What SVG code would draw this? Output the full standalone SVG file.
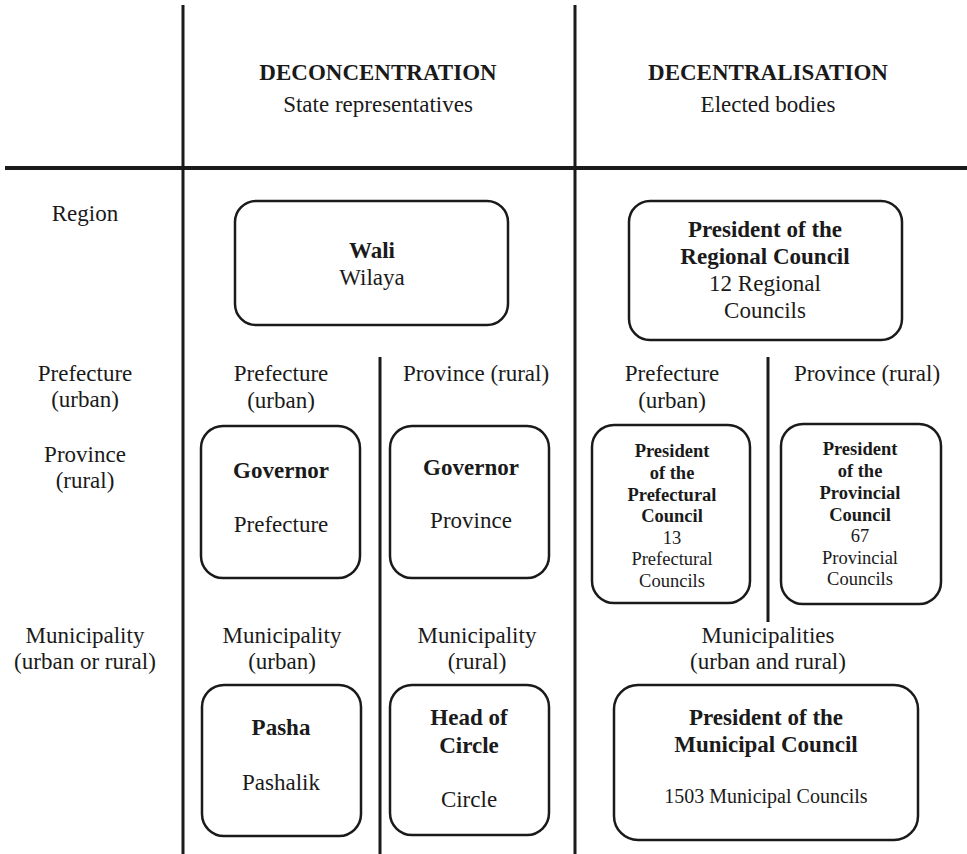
<svg xmlns="http://www.w3.org/2000/svg" width="967" height="854" viewBox="0 0 967 854">
<style>
text{font-family:"Liberation Serif","Times New Roman",serif;font-size:23px;fill:#1a1a1a;text-anchor:middle}
.b{font-weight:bold}
.s{font-size:18.5px}
.m{font-size:20px}
.box{fill:#fff;stroke:#1a1a1a;stroke-width:2.5}
.ln{stroke:#1a1a1a;stroke-width:3;fill:none}
</style>
<rect width="967" height="854" fill="#fff"/>
<g id="connectors">
<line class="ln" x1="183" y1="5" x2="183" y2="854"/>
<line class="ln" x1="575" y1="5" x2="575" y2="854"/>
<line class="ln" x1="5" y1="168" x2="967" y2="168" style="stroke-width:4"/>
<line class="ln" x1="380" y1="357" x2="380" y2="854"/>
<line class="ln" x1="768" y1="357" x2="768" y2="622"/>
</g>
<g id="headers">
<text class="b" x="378" y="80">DECONCENTRATION</text>
<text x="378" y="112">State representatives</text>
<text class="b" x="768" y="80">DECENTRALISATION</text>
<text x="768" y="112">Elected bodies</text>
</g>
<g id="row-labels">
<text x="85" y="221">Region</text>
<text x="85" y="381">Prefecture</text>
<text x="85" y="407">(urban)</text>
<text x="85" y="462">Province</text>
<text x="85" y="488">(rural)</text>
<text x="85" y="643">Municipality</text>
<text x="85" y="669">(urban or rural)</text>
</g>
<g id="sub-labels">
<text x="281" y="381">Prefecture</text>
<text x="281" y="408">(urban)</text>
<text x="476" y="381">Province (rural)</text>
<text x="672" y="381">Prefecture</text>
<text x="672" y="408">(urban)</text>
<text x="867" y="381">Province (rural)</text>
<text x="282" y="643">Municipality</text>
<text x="282" y="669">(urban)</text>
<text x="477" y="643">Municipality</text>
<text x="477" y="669">(rural)</text>
<text x="768" y="643">Municipalities</text>
<text x="768" y="669">(urban and rural)</text>
</g>
<g id="wali">
<rect class="box" x="235" y="201" width="273" height="124" rx="21"/>
<text class="b" x="372" y="258">Wali</text>
<text x="372" y="285">Wilaya</text>
</g>
<g id="regional-council">
<rect class="box" x="629" y="201" width="273" height="139" rx="21"/>
<text class="b" x="765" y="237">President of the</text>
<text class="b" x="765" y="264">Regional Council</text>
<text x="765" y="291">12 Regional</text>
<text x="765" y="318">Councils</text>
</g>
<g id="governor-prefecture">
<rect class="box" x="201" y="426" width="159" height="152" rx="22"/>
<text class="b" x="281" y="478">Governor</text>
<text x="281" y="532">Prefecture</text>
</g>
<g id="governor-province">
<rect class="box" x="390" y="426" width="159" height="152" rx="22"/>
<text class="b" x="471" y="475">Governor</text>
<text x="471" y="528">Province</text>
</g>
<g id="prefectural-council">
<rect class="box" x="592" y="425" width="158" height="178" rx="22"/>
<text class="b s" x="672" y="457">President</text>
<text class="b s" x="672" y="479">of the</text>
<text class="b s" x="672" y="501">Prefectural</text>
<text class="b s" x="672" y="522">Council</text>
<text class="s" x="672" y="544">13</text>
<text class="s" x="672" y="565">Prefectural</text>
<text class="s" x="672" y="587">Councils</text>
</g>
<g id="provincial-council">
<rect class="box" x="781" y="424" width="160" height="180" rx="22"/>
<text class="b s" x="860" y="455">President</text>
<text class="b s" x="860" y="477">of the</text>
<text class="b s" x="860" y="499">Provincial</text>
<text class="b s" x="860" y="521">Council</text>
<text class="s" x="860" y="542">67</text>
<text class="s" x="860" y="564">Provincial</text>
<text class="s" x="860" y="585">Councils</text>
</g>
<g id="pasha">
<rect class="box" x="202" y="685" width="159" height="151" rx="22"/>
<text class="b" x="281" y="735">Pasha</text>
<text x="281" y="790">Pashalik</text>
</g>
<g id="head-of-circle">
<rect class="box" x="390" y="685" width="159" height="150" rx="22"/>
<text class="b" x="469" y="725">Head of</text>
<text class="b" x="469" y="753">Circle</text>
<text x="469" y="807">Circle</text>
</g>
<g id="municipal-council">
<rect class="box" x="614" y="685" width="304" height="155" rx="24"/>
<text class="b" x="766" y="725">President of the</text>
<text class="b" x="766" y="752">Municipal Council</text>
<text class="m" x="766" y="803">1503 Municipal Councils</text>
</g>
</svg>
